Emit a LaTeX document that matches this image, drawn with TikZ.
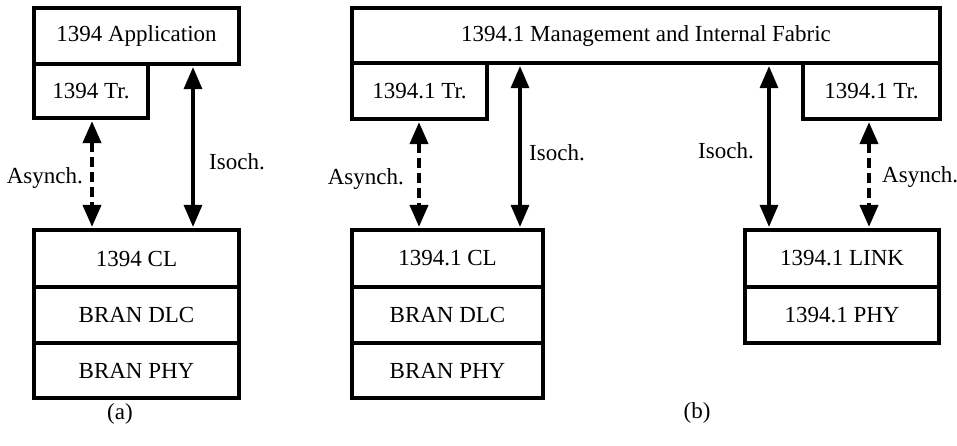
\documentclass[tikz,border=0pt]{standalone}
\usepackage{fontspec}
\setmainfont{Liberation Serif}
\usetikzlibrary{arrows.meta}
\tikzset{
  box/.style={draw, line width=3.2pt, rectangle, inner sep=0pt, font=\fontsize{23}{26}\selectfont},
  lbl/.style={inner sep=0pt, font=\fontsize{23}{26}\selectfont},
  dblarrow/.style={line width=3.2pt, {Triangle[length=22pt,width=18pt]}-{Triangle[length=22pt,width=18pt]}, shorten <=1.5pt, shorten >=1.5pt},
  dasharrow/.style={dblarrow, line width=4pt, dash pattern=on 10pt off 5pt}
}
\begin{document}
\begin{tikzpicture}[x=1pt,y=-1pt]
\useasboundingbox (0,0) rectangle (957,445);
% (a)
\node[box, minimum width=205pt, minimum height=56pt] (app) at (136.5,36) {1394 Application};
\node[box, minimum width=114pt, minimum height=54pt] (trA) at (91,91) {1394 Tr.};
\node[box, minimum width=205pt, minimum height=57pt] (clA) at (136.5,258.5) {1394 CL};
\node[box, minimum width=205pt, minimum height=56pt] (dlcA) at (136.5,315) {BRAN DLC};
\node[box, minimum width=205pt, minimum height=55pt] (phyA) at (136.5,370.5) {BRAN PHY};
\coordinate (asyA) at (92,170);
\coordinate (isoA) at (193,150);
\draw[dasharrow] (trA.south -| asyA) -- (clA.north -| asyA);
\draw[dblarrow] (app.south -| isoA) -- (clA.north -| isoA);
\node[lbl, anchor=east] (asyAl) at (83,178) {Asynch.};
\node[lbl, anchor=west] (isoAl) at (209,162) {Isoch.};
\node[lbl] (capA) at (120,414) {(a)};
% (b)
\node[box, minimum width=588pt, minimum height=55pt] (mgmt) at (646,35.5) {1394.1 Management and Internal Fabric};
\node[box, minimum width=135pt, minimum height=56pt] (trBL) at (419.5,91) {1394.1 Tr.};
\node[box, minimum width=137pt, minimum height=56pt] (trBR) at (871.5,91) {1394.1 Tr.};
\node[box, minimum width=191pt, minimum height=57pt] (clB) at (447.5,258.5) {1394.1 CL};
\node[box, minimum width=191pt, minimum height=56pt] (dlcB) at (447.5,315) {BRAN DLC};
\node[box, minimum width=191pt, minimum height=55pt] (phyB) at (447.5,370.5) {BRAN PHY};
\node[box, minimum width=194pt, minimum height=57pt] (linkB) at (842,258.5) {1394.1 LINK};
\node[box, minimum width=194pt, minimum height=56pt] (phyB2) at (842,315) {1394.1 PHY};
\coordinate (asyBL) at (419,170);
\coordinate (isoBL) at (520,150);
\coordinate (isoBR) at (769,150);
\coordinate (asyBR) at (869,170);
\draw[dasharrow] (trBL.south -| asyBL) -- (clB.north -| asyBL);
\draw[dblarrow] (mgmt.south -| isoBL) -- (clB.north -| isoBL);
\draw[dblarrow] (mgmt.south -| isoBR) -- (linkB.north -| isoBR);
\draw[dasharrow] (trBR.south -| asyBR) -- (linkB.north -| asyBR);
\node[lbl, anchor=east] (asyBLl) at (404,179) {Asynch.};
\node[lbl, anchor=west] (isoBLl) at (529,153) {Isoch.};
\node[lbl, anchor=east] (isoBRl) at (754,151) {Isoch.};
\node[lbl, anchor=west] (asyBRl) at (882,177) {Asynch.};
\node[lbl] (capB) at (697,413) {(b)};
\end{tikzpicture}
\end{document}
